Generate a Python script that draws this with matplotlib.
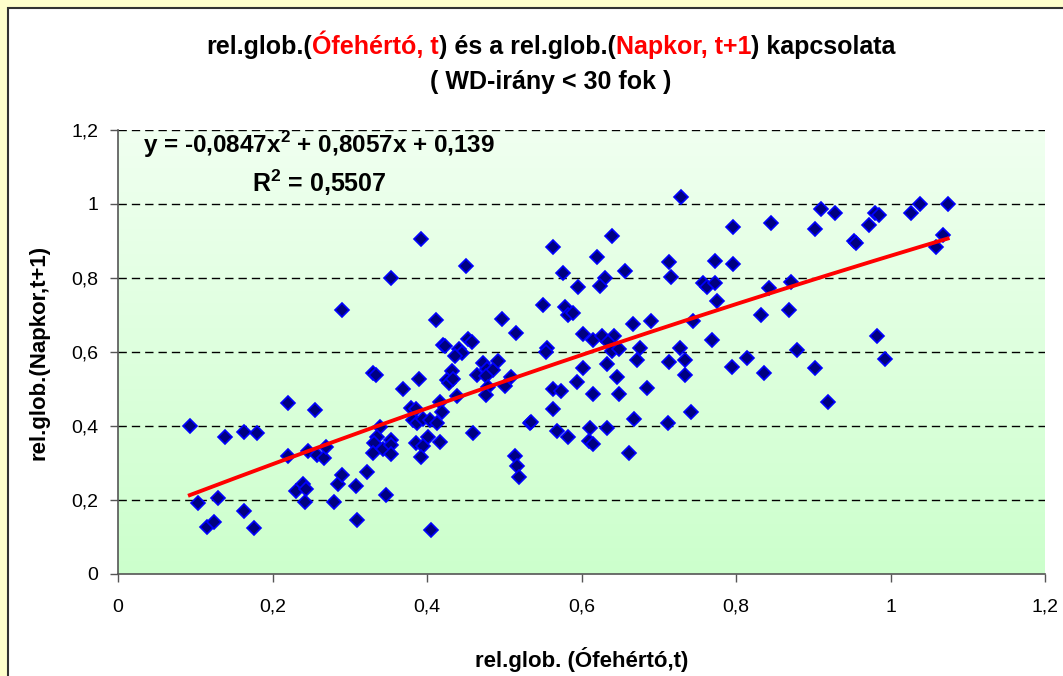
import matplotlib
matplotlib.use("Agg")
import matplotlib.pyplot as plt
import numpy as np
from matplotlib.patches import Rectangle
from matplotlib.colors import LinearSegmentedColormap
from matplotlib.offsetbox import TextArea, HPacker, AnnotationBbox
from matplotlib.ticker import FuncFormatter

plt.rcParams['font.family'] = ['Liberation Sans', 'DejaVu Sans']
plt.rcParams['mathtext.fontset'] = 'custom'
plt.rcParams['mathtext.rm'] = 'Liberation Sans'
plt.rcParams['mathtext.bf'] = 'Liberation Sans:bold'

# rel.glob. (Ófehértó, t)
x_vals = [
    0.093, 0.104, 0.115, 0.124, 0.130, 0.139, 0.163, 0.163, 0.176, 0.180,
    0.220, 0.220, 0.230, 0.240, 0.243, 0.242, 0.255, 0.246, 0.258, 0.267,
    0.269, 0.280, 0.285, 0.290, 0.290, 0.308, 0.309, 0.322, 0.330, 0.334,
    0.339, 0.335, 0.331, 0.330, 0.343, 0.353, 0.353, 0.353, 0.347, 0.353,
    0.392, 0.369, 0.390, 0.412, 0.451, 0.563, 0.421, 0.423, 0.453, 0.458,
    0.441, 0.445, 0.436, 0.432, 0.426, 0.429, 0.434, 0.439, 0.417, 0.419,
    0.379, 0.386, 0.382, 0.387, 0.395, 0.404, 0.413, 0.401, 0.417, 0.386,
    0.395, 0.392, 0.460, 0.465, 0.473, 0.478, 0.485, 0.476, 0.492, 0.479,
    0.476, 0.501, 0.509, 0.497, 0.515, 0.550, 0.555, 0.554, 0.533, 0.563,
    0.563, 0.568, 0.514, 0.517, 0.519, 0.405, 0.729, 0.796, 0.845, 0.640,
    0.620, 0.576, 0.656, 0.713, 0.773, 0.796, 0.716, 0.630, 0.624, 0.596,
    0.757, 0.762, 0.773, 0.775, 0.843, 0.871, 0.869, 0.832, 0.579, 0.583,
    0.589, 0.667, 0.690, 0.744, 0.602, 0.615, 0.627, 0.642, 0.634, 0.640,
    0.649, 0.676, 0.672, 0.728, 0.734, 0.713, 0.769, 0.734, 0.795, 0.814,
    0.836, 0.879, 0.602, 0.594, 0.574, 0.633, 0.646, 0.615, 0.649, 0.685,
    0.583, 0.611, 0.633, 0.610, 0.615, 0.668, 0.712, 0.742, 0.662, 0.910,
    0.928, 0.902, 0.980, 0.985, 0.972, 1.027, 1.038, 1.074, 0.953, 0.955,
    1.068, 1.059, 0.983, 0.993, 0.902, 0.919, 0.535,
]
# rel.glob. (Napkor, t+1)
y_vals = [
    0.400, 0.192, 0.127, 0.141, 0.205, 0.370, 0.384, 0.170, 0.124, 0.381,
    0.462, 0.319, 0.224, 0.243, 0.230, 0.195, 0.443, 0.332, 0.322, 0.314,
    0.343, 0.195, 0.243, 0.268, 0.714, 0.238, 0.146, 0.276, 0.543, 0.538,
    0.397, 0.370, 0.354, 0.327, 0.338, 0.362, 0.349, 0.324, 0.214, 0.800,
    0.905, 0.500, 0.527, 0.686, 0.832, 0.884, 0.619, 0.616, 0.635, 0.627,
    0.608, 0.597, 0.589, 0.549, 0.524, 0.516, 0.527, 0.481, 0.465, 0.438,
    0.449, 0.446, 0.416, 0.408, 0.419, 0.416, 0.408, 0.370, 0.357, 0.354,
    0.346, 0.316, 0.381, 0.538, 0.570, 0.554, 0.551, 0.535, 0.576, 0.505,
    0.484, 0.508, 0.532, 0.689, 0.651, 0.727, 0.611, 0.600, 0.408, 0.500,
    0.446, 0.386, 0.319, 0.292, 0.262, 0.119, 1.019, 0.938, 0.949, 0.914,
    0.857, 0.814, 0.819, 0.843, 0.846, 0.838, 0.803, 0.800, 0.778, 0.776,
    0.787, 0.776, 0.787, 0.738, 0.773, 0.789, 0.714, 0.700, 0.722, 0.700,
    0.705, 0.676, 0.684, 0.684, 0.649, 0.632, 0.643, 0.643, 0.627, 0.603,
    0.608, 0.611, 0.578, 0.611, 0.578, 0.573, 0.632, 0.538, 0.559, 0.584,
    0.543, 0.605, 0.557, 0.519, 0.495, 0.568, 0.532, 0.486, 0.486, 0.503,
    0.370, 0.395, 0.395, 0.359, 0.351, 0.419, 0.408, 0.438, 0.327, 0.986,
    0.976, 0.932, 0.976, 0.970, 0.943, 0.976, 1.000, 1.000, 0.900, 0.895,
    0.916, 0.884, 0.643, 0.581, 0.557, 0.465, 0.411,
]

# polinomiális trendvonal együtthatói (Excel)
trend_coef = [-0.0847, 0.8057, 0.139]
r2_text = "0,5507"

title_parts = [
    ("rel.glob.(", "black"), ("Ófehértó, t", "red"), (") és a rel.glob.(", "black"),
    ("Napkor, t+1", "red"), (") kapcsolata", "black"),
]
subtitle = "( WD-irány < 30 fok )"
xlabel = "rel.glob. (Ófehértó,t)"
ylabel = "rel.glob.(Napkor,t+1)"
ticks = [0, 0.2, 0.4, 0.6, 0.8, 1.0, 1.2]

W, H = 1063, 676
fig = plt.figure(figsize=(W / 100, H / 100), dpi=100)
fig.patch.set_facecolor("#FFFFCC")
fig.patches.append(Rectangle((8 / W, -0.05), 1.1, 1 - 8 / H + 0.05, transform=fig.transFigure,
                             facecolor="white", edgecolor="#333333", lw=1.5, zorder=-5))

ax = fig.add_axes([118 / W, 1 - 574 / H, 927 / W, 444 / H])
ax.set_zorder(2)
ax.set_facecolor("none")
cmap = LinearSegmentedColormap.from_list("bg", ["#CCFFCC", "#F0FFF0"])
grad = np.linspace(0, 1, 256).reshape(-1, 1)
ax.imshow(grad, extent=[0, 1.2, 0, 1.2], origin="lower", aspect="auto", cmap=cmap, zorder=0)

for t in ticks[1:]:
    ax.axhline(t, color="black", lw=1, ls=(0, (6, 3.6)), zorder=1)

ax.plot(x_vals, y_vals, "D", ms=7.5, mfc="#000080", mec="#0000FF", mew=1.2, ls="none", zorder=3)

xs = np.linspace(min(x_vals), max(x_vals), 200)
ys = np.polyval(trend_coef, xs)
ax.plot(xs, ys, color="red", lw=2.8, zorder=4)

ax.set_xlim(0, 1.2)
ax.set_ylim(0, 1.2)
ax.set_xticks(ticks)
ax.set_yticks(ticks)
fmt = FuncFormatter(lambda v, p: ("%g" % v).replace(".", ","))
ax.xaxis.set_major_formatter(fmt)
ax.yaxis.set_major_formatter(fmt)
for s in ["top", "right"]:
    ax.spines[s].set_visible(False)
for s in ["left", "bottom"]:
    ax.spines[s].set_color("#555555")
    ax.spines[s].set_linewidth(1.2)
ax.tick_params(direction="out", length=6, width=1, color="#555555", labelsize=14)
ax.tick_params(axis="x", pad=12)
ax.tick_params(axis="y", pad=8)

ax.set_xlabel(xlabel, fontsize=16, fontweight="bold", labelpad=22)
ax.set_ylabel(ylabel, fontsize=16, fontweight="bold", labelpad=16)

boxes = [TextArea(s, textprops=dict(color=c, fontsize=18, fontweight="bold")) for s, c in title_parts]
pack = HPacker(children=boxes, pad=0, sep=0, align="baseline")
fig.add_artist(AnnotationBbox(pack, (551 / W, 1 - 45 / H), xycoords="figure fraction",
                              frameon=False, box_alignment=(0.5, 0.5)))
fig.text(551 / W, 1 - 82 / H, subtitle, ha="center", va="center", fontsize=18, fontweight="bold")

fig.text(143 / W, 1 - 145 / H, r"y = -0,0847x$^{\mathbf{2}}$ + 0,8057x + 0,139", ha="left",
         va="center", fontsize=17.5, fontweight="bold", zorder=5)
fig.text(319 / W, 1 - 183 / H, r"R$^{\mathbf{2}}$ = " + r2_text, ha="center", va="center",
         fontsize=18, fontweight="bold", zorder=5)

fig.savefig("out.png", dpi=100, facecolor=fig.get_facecolor())
